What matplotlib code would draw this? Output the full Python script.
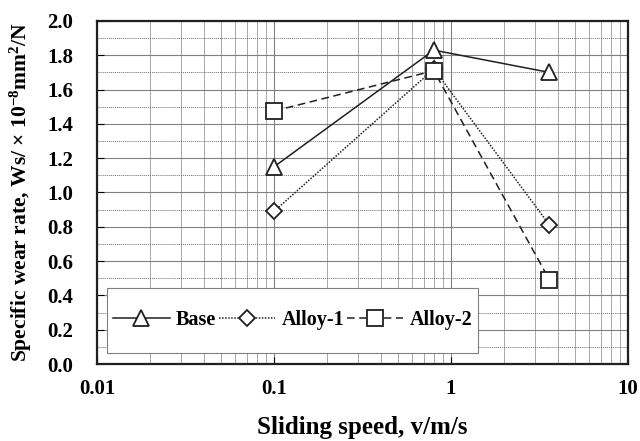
import matplotlib
matplotlib.use("Agg")
import matplotlib.pyplot as plt
from matplotlib.patches import Rectangle
from matplotlib.ticker import MultipleLocator, LogLocator, NullFormatter, FixedLocator
import numpy as np

plt.rcParams['font.family'] = ['Liberation Serif', 'DejaVu Sans']
plt.rcParams['font.weight'] = 'bold'
plt.rcParams['mathtext.fontset'] = 'custom'
plt.rcParams['mathtext.rm'] = 'Liberation Serif:bold'
plt.rcParams['mathtext.it'] = 'Liberation Serif:bold'

# 滑动速度 (m/s) 与比磨损率
speed = [0.1, 0.8, 3.6]
base = [1.15, 1.83, 1.70]
alloy1 = [0.89, 1.72, 0.81]
alloy2 = [1.475, 1.71, 0.49]
labels = ['Base', 'Alloy-1', 'Alloy-2']

fig = plt.figure(figsize=(6.4, 4.41), dpi=100)
ax = fig.add_axes([0.1516, 0.1746, 0.8297, 0.7778])

ax.set_xscale('log')
ax.set_xlim(0.01, 10)
ax.set_ylim(0, 2.0)

# 网格
ax.yaxis.set_major_locator(MultipleLocator(0.2))
ax.yaxis.set_minor_locator(MultipleLocator(0.1))
ax.xaxis.set_major_locator(FixedLocator([0.01, 0.1, 1, 10]))
ax.xaxis.set_minor_locator(LogLocator(base=10, subs=np.arange(2, 10)))
ax.xaxis.set_minor_formatter(NullFormatter())
ax.set_xticklabels(['0.01', '0.1', '1', '10'])
ax.grid(which='major', axis='both', color='#808080', lw=0.8, ls='-')
ax.grid(which='minor', axis='x', color='#a8a8a8', lw=0.7, ls='-')
ax.grid(which='minor', axis='y', color='#707070', lw=0.7, ls=(0, (1, 1)))
ax.set_axisbelow(True)

ax.tick_params(which='major', direction='in', length=5, width=0.8, labelsize=15)
ax.tick_params(which='minor', direction='in', length=0)
ax.tick_params(axis='x', pad=11)
ax.tick_params(axis='y', pad=17)
for s in ax.spines.values():
    s.set_linewidth(1.6)
    s.set_color('#231f20')

mk = dict(mfc='white', mec='#231f20', mew=1.3, color='#231f20', lw=1.1)
ax.plot(speed, base, ls='-', marker='^', ms=12, label=labels[0], **mk)
ax.plot(speed, alloy1, ls=(0, (1, 1)), marker='D', ms=8, label=labels[1], **mk)
ax.plot(speed, alloy2, ls=(0, (5, 3)), marker='s', ms=11, label=labels[2], **mk)

ax.set_xlabel('Sliding speed, v/m/s', fontsize=18, fontweight='bold', labelpad=12)
ax.set_ylabel('Specific wear rate, Ws/ \u00d7 10$^{-8}$mm$^{2}$/N',
              fontsize=15.5, fontweight='bold', labelpad=10)

# 图例外框单独画，图例居中放在框内
box = Rectangle((0.019, 0.032), 0.699, 0.19, transform=ax.transAxes,
                facecolor='white', edgecolor='#808080', lw=0.8, zorder=4)
ax.add_patch(box)
leg = ax.legend(loc='center', ncol=3, bbox_to_anchor=(0.019 + 0.699 / 2, 0.032 + 0.19 / 2),
                borderaxespad=0, frameon=False, fontsize=14.5, handlelength=2.8,
                columnspacing=0.15, handletextpad=0.3, borderpad=0)
leg.set_zorder(5)

fig.savefig('out.png', dpi=100)
